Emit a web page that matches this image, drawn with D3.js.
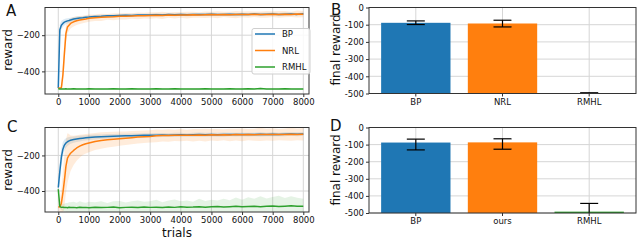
<!DOCTYPE html>
<html>
<head>
<meta charset="utf-8">
<script src="https://cdn.jsdelivr.net/npm/d3@7"></script>
<style>
body { margin: 0; background: #fff; }
svg { display: block; font-family: "DejaVu Sans", sans-serif; }
</style>
</head>
<body>
<svg id="fig" width="640" height="242"></svg>
<script>
// trial grid shared by every learning curve
const trials = [0,50,100,150,200,250,300,350,400,500,600,700,800,900,1000,
  1200,1400,1600,1800,2000,2200,2400,2600,2800,3000,3200,3400,3600,3800,4000,
  4200,4400,4600,4800,5000,5200,5400,5600,5800,6000,6200,6400,6600,6800,7000,
  7200,7400,7600,7800,8000];

// panel A means and spreads
const aBP = [-492,-170,-145,-135,-128,-124,-121,-119,-116,-111,-108,-105,-104,-101,-100,
  -97,-96,-92,-93,-91,-90,-91,-89,-88,-89,-87,-88,-86,-87,-85,-87,-86,-85,-86,-84,
  -86,-85,-84,-86,-84,-85,-83,-85,-84,-83,-85,-84,-83,-85,-82];
const aNRL = [-492,-492,-490,-420,-300,-190,-155,-145,-135,-126,-120,-116,-113,-110,-106,
  -103,-101,-99,-98,-96,-95,-94,-93,-92,-91,-90,-91,-89,-90,-88,-89,-87,-88,-87,-86,
  -87,-85,-87,-86,-85,-86,-84,-86,-85,-84,-85,-84,-85,-83,-84];
const aRMHL = [-496,-497,-497,-498,-497,-496,-498,-497,-497,-496,-498,-497,-498,-497,-496,
  -497,-498,-497,-496,-497,-498,-496,-497,-498,-497,-496,-497,-498,-496,-497,
  -497,-498,-497,-496,-497,-498,-497,-496,-497,-498,-496,-497,-495,-497,-498,
  -497,-496,-497,-498,-497];
const aBPsd = [0,30,25,20,18,16,15,14,13,12,11,10,10,9,9,
  8,9,7,8,8,7,9,8,7,8,9,7,8,8,7,9,8,7,8,9,7,8,8,9,7,8,7,9,8,8,7,9,8,7,8];
const aNRLsd = [0,0,5,60,70,45,35,30,28,26,24,22,21,20,20,
  18,20,16,19,17,18,15,19,16,18,17,20,15,18,16,19,17,15,18,16,
  19,15,17,20,16,18,15,17,19,16,18,17,15,19,17];
const aRMHLsd = [2,3,3,2,3,3,2,3,3,2,3,3,2,3,3,
  2,3,3,2,3,3,2,3,4,2,3,3,2,3,3,2,3,4,3,2,3,3,2,3,3,2,3,5,3,2,3,3,2,3,3];

// panel C means and spreads
const cBP = [-380,-290,-210,-165,-142,-130,-123,-118,-115,-111,-108,-105,-103,-101,-99,
  -97,-95,-93,-92,-91,-90,-89,-88,-87,-86,-86,-85,-86,-85,-84,-85,-84,-83,-84,-83,
  -84,-83,-82,-83,-82,-83,-82,-81,-82,-81,-82,-81,-80,-81,-80];
const cNRL = [-490,-489,-470,-410,-340,-260,-215,-200,-188,-172,-158,-148,-140,-134,-130,
  -122,-116,-112,-109,-106,-103,-100,-97,-95,-93,-90,-88,-88,-87,-86,-87,-86,-85,-86,-84,
  -85,-84,-85,-83,-84,-83,-84,-82,-83,-82,-83,-82,-81,-82,-81];
const cRMHL = [-390,-488,-492,-491,-493,-492,-494,-491,-493,-492,-494,-491,-493,-492,-494,
  -491,-493,-492,-490,-494,-492,-491,-493,-490,-492,-491,-493,-490,-492,-489,
  -491,-490,-488,-491,-489,-487,-490,-488,-486,-489,-487,-485,-488,-486,-484,
  -487,-485,-483,-486,-485];
const cBPsd = [30,60,50,40,32,27,24,22,20,18,17,16,15,15,14,
  14,13,13,12,13,12,12,11,12,11,12,11,11,12,11,10,11,12,11,10,
  11,12,10,11,10,11,10,12,10,11,10,11,10,11,10];
const cNRLsd = [10,40,80,120,150,150,140,120,100,82,72,64,58,55,52,
  48,46,44,42,40,38,37,36,35,34,36,33,35,32,34,31,35,33,36,32,
  34,31,35,33,36,32,34,37,33,35,31,34,36,33,35];
const cRMHLsd = [4,10,16,20,22,25,26,28,30,32,28,34,30,26,33,
  28,36,25,32,38,27,33,40,29,35,42,30,36,44,31,38,30,45,35,40,
  33,46,36,50,40,52,42,58,44,50,60,46,54,48,42];

// final reward bars
const catsB = ['BP', 'NRL', 'RMHL'];
const finalB = [-89, -93, -498];
const finalBhi = [-78, -74, -496];
const finalBlo = [-99, -113, -499];
const catsD = ['BP', 'ours', 'RMHL'];
const finalD = [-88, -87, -492];
const finalDhi = [-68, -66, -444];
const finalDlo = [-131, -127, -505];

const legendNames = ['BP', 'NRL', 'RMHL'];
const colors = ['#1f77b4', '#ff7f0e', '#2ca02c'];
const xTicks = d3.range(0, 8001, 1000);
const yTicksLine = [-400, -200];
const yTicksBar = [0, -100, -200, -300, -400, -500];

const svg = d3.select('#fig');
const gridColor = '#d6d6d6';
const spine = '#333';
const tickFont = 8.5;

function styleAxis(g) {
  g.select('.domain').remove();
  g.attr('font-size', tickFont).attr('font-family', 'DejaVu Sans');
  g.selectAll('line').attr('stroke', spine);
  g.selectAll('text').attr('fill', '#111');
}

function linePanel(id, left, right, top, bottom, xDom, yDom, means, sds) {
  const x = d3.scaleLinear().domain(xDom).range([left, right]);
  const y = d3.scaleLinear().domain(yDom).range([bottom, top]);
  const g = svg.append('g');

  g.append('clipPath').attr('id', id)
    .append('rect').attr('x', left).attr('y', top)
    .attr('width', right - left).attr('height', bottom - top);

  g.selectAll('line.gx').data(xTicks).enter().append('line')
    .attr('x1', d => x(d)).attr('x2', d => x(d))
    .attr('y1', top).attr('y2', bottom)
    .attr('stroke', gridColor).attr('stroke-width', 1);
  g.selectAll('line.gy').data(yTicksLine).enter().append('line')
    .attr('x1', left).attr('x2', right)
    .attr('y1', d => y(d)).attr('y2', d => y(d))
    .attr('stroke', gridColor).attr('stroke-width', 1);

  const plot = g.append('g').attr('clip-path', `url(#${id})`);
  means.forEach((m, k) => {
    const area = d3.area()
      .x((d, i) => x(trials[i]))
      .y0((d, i) => y(m[i] - sds[k][i]))
      .y1((d, i) => y(m[i] + sds[k][i]));
    plot.append('path').attr('d', area(m))
      .attr('fill', colors[k]).attr('fill-opacity', k === 2 ? 0.12 : 0.15);
  });
  means.forEach((m, k) => {
    const line = d3.line().x((d, i) => x(trials[i])).y(d => y(d));
    plot.append('path').attr('d', line(m))
      .attr('fill', 'none').attr('stroke', colors[k])
      .attr('stroke-width', 1.5).attr('stroke-linejoin', 'round');
  });

  g.append('g').attr('transform', `translate(0,${bottom})`)
    .call(d3.axisBottom(x).tickValues(xTicks).tickFormat(d3.format('d')).tickSize(3).tickPadding(2))
    .call(styleAxis);
  g.append('g').attr('transform', `translate(${left},0)`)
    .call(d3.axisLeft(y).tickValues(yTicksLine).tickSize(3).tickPadding(2))
    .call(styleAxis);

  g.append('rect').attr('x', left).attr('y', top)
    .attr('width', right - left).attr('height', bottom - top)
    .attr('fill', 'none').attr('stroke', spine).attr('stroke-width', 1);
  return g;
}

function barPanel(left, right, top, bottom, cats, vals, hi, lo) {
  const x = d3.scaleBand().domain(cats).range([left, right])
    .paddingInner(0.2).paddingOuter(0.14);
  const y = d3.scaleLinear().domain([-500, 0]).range([bottom, top]);
  const g = svg.append('g');

  g.selectAll('line.gx').data(cats).enter().append('line')
    .attr('x1', d => x(d) + x.bandwidth() / 2).attr('x2', d => x(d) + x.bandwidth() / 2)
    .attr('y1', top).attr('y2', bottom)
    .attr('stroke', gridColor).attr('stroke-width', 1);
  g.selectAll('line.gy').data(yTicksBar).enter().append('line')
    .attr('x1', left).attr('x2', right)
    .attr('y1', d => y(d)).attr('y2', d => y(d))
    .attr('stroke', gridColor).attr('stroke-width', 1);

  g.selectAll('rect.bar').data(cats).enter().append('rect')
    .attr('x', d => x(d)).attr('width', x.bandwidth())
    .attr('y', (d, i) => y(vals[i]))
    .attr('height', (d, i) => y(-500) - y(vals[i]))
    .attr('fill', (d, i) => colors[i]);

  const cx = d => x(d) + x.bandwidth() / 2;
  const yc = v => y(Math.max(v, -500));
  const eb = g.selectAll('g.err').data(cats).enter().append('g')
    .attr('stroke', '#000').attr('stroke-width', 1.2);
  eb.append('line').attr('x1', cx).attr('x2', cx)
    .attr('y1', (d, i) => yc(hi[i])).attr('y2', (d, i) => yc(lo[i]));
  eb.append('line').attr('x1', d => cx(d) - 9).attr('x2', d => cx(d) + 9)
    .attr('y1', (d, i) => yc(hi[i])).attr('y2', (d, i) => yc(hi[i]));
  eb.filter((d, i) => lo[i] >= -500).append('line')
    .attr('x1', d => cx(d) - 9).attr('x2', d => cx(d) + 9)
    .attr('y1', d => yc(lo[cats.indexOf(d)])).attr('y2', d => yc(lo[cats.indexOf(d)]));

  g.append('g').attr('transform', `translate(0,${bottom})`)
    .call(d3.axisBottom(x).tickSize(3).tickPadding(2))
    .call(styleAxis);
  g.append('g').attr('transform', `translate(${left},0)`)
    .call(d3.axisLeft(y).tickValues(yTicksBar).tickFormat(d => String(d)).tickSize(3).tickPadding(2))
    .call(styleAxis);

  g.append('rect').attr('x', left).attr('y', top)
    .attr('width', right - left).attr('height', bottom - top)
    .attr('fill', 'none').attr('stroke', spine).attr('stroke-width', 1);
}

linePanel('clipA', 45, 309, 7.5, 94, [-434, 8186], [-525, -47],
  [aBP, aNRL, aRMHL], [aBPsd, aNRLsd, aRMHLsd]);
linePanel('clipC', 45, 309, 127.5, 212, [-434, 8186], [-518, -43],
  [cBP, cNRL, cRMHL], [cBPsd, cNRLsd, cRMHLsd]);
barPanel(369, 636, 7.5, 93.5, catsB, finalB, finalBhi, finalBlo);
barPanel(369, 636, 127.5, 213, catsD, finalD, finalDhi, finalDlo);

// legend of panel A
const leg = svg.append('g');
leg.append('rect').attr('x', 252).attr('y', 28.5).attr('width', 58).attr('height', 45.5)
  .attr('rx', 2).attr('fill', '#fff').attr('fill-opacity', 0.85)
  .attr('stroke', '#cfcfcf').attr('stroke-width', 1);
legendNames.forEach((n, i) => {
  const yy = 34 + i * 16.5;
  leg.append('line').attr('x1', 255).attr('x2', 275).attr('y1', yy).attr('y2', yy)
    .attr('stroke', colors[i]).attr('stroke-width', 1.5);
  leg.append('text').attr('x', 282).attr('y', yy + 3).attr('font-size', 8.5)
    .attr('fill', '#111').text(n);
});

// panel letters and axis labels
const letters = [['A', 6, 16], ['B', 331, 15], ['C', 7, 132], ['D', 330, 131]];
svg.selectAll('text.letter').data(letters).enter().append('text')
  .attr('x', d => d[1]).attr('y', d => d[2]).attr('font-size', 15)
  .attr('fill', '#111').text(d => d[0]);

const ylabels = [['reward', 12, 50], ['reward', 12, 170], ['final reward', 340, 50], ['final reward', 340, 170]];
svg.selectAll('text.ylab').data(ylabels).enter().append('text')
  .attr('transform', d => `translate(${d[1]},${d[2]}) rotate(-90)`)
  .attr('text-anchor', 'middle').attr('font-size', 12)
  .attr('fill', '#111').text(d => d[0]);

svg.append('text').attr('x', 177).attr('y', 237).attr('text-anchor', 'middle')
  .attr('font-size', 12).attr('fill', '#111').text('trials');
</script>
</body>
</html>
